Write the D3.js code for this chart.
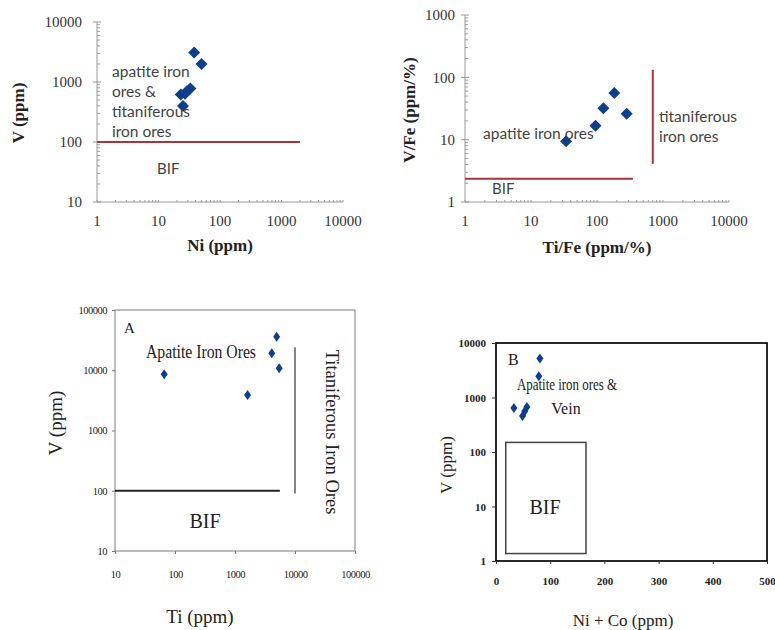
<!DOCTYPE html>
<html>
<head>
<meta charset="utf-8">
<script src="https://cdn.jsdelivr.net/npm/d3@7"></script>
<style>
  body { margin: 0; background: #fff; }
  svg { display: block; }
</style>
</head>
<body>
<div id="chart"></div>
<script>
// Data
// Panel 1: V vs Ni
const niValues = [38, 50, 33, 29, 23, 25, 27];
const vNiValues = [3100, 2000, 780, 700, 620, 400, 640];
// Panel 2: V/Fe vs Ti/Fe
const tiFeValues = [34, 95, 125, 183, 282];
const vFeValues = [9.4, 16.7, 32, 56, 26];
// Panel 3: V vs Ti
const tiValues = [66, 1620, 4100, 4950, 5450];
const vTiValues = [8600, 3870, 19200, 36000, 10800];
// Panel 4: V vs Ni+Co
const niCoValues = [81, 79, 33, 49, 57, 53];
const vNiCoValues = [5200, 2450, 640, 460, 670, 560];

const logTicks1 = [1, 10, 100, 1000, 10000];
const logTicks2 = [10, 100, 1000, 10000, 100000];
const linTicks = [0, 100, 200, 300, 400, 500];
const logTicks4 = [1, 10, 100, 1000, 10000];

const svg = d3.select('#chart')
    .append('svg')
    .attr('width', 775)
    .attr('height', 630);

const blue = '#0f3f8a';
const red = '#a8343a';
const serif = '"Liberation Serif", "Times New Roman", serif';
const sans = 'Lato, "Open Sans", sans-serif';

function diamond(g, pts, w, h) {
    g.selectAll('path.pt')
        .data(pts)
        .join('path')
        .attr('class', 'pt')
        .attr('d', d => `M${d[0]},${d[1] - h}L${d[0] + w},${d[1]}L${d[0]},${d[1] + h}L${d[0] - w},${d[1]}Z`)
        .attr('fill', blue);
}

function minorLog(domain) {
    const out = [];
    for (let e = Math.log10(domain[0]); e < Math.log10(domain[1]); e++) {
        for (let k = 2; k <= 9; k++) out.push(k * Math.pow(10, e));
    }
    return out;
}

// ---------- Panel 1 ----------
{
    const x = d3.scaleLog().domain([1, 10000]).range([97, 343]);
    const y = d3.scaleLog().domain([10, 10000]).range([202, 22]);
    const g = svg.append('g');
    const axisColor = '#9a9a9a';

    g.append('line').attr('x1', x(1)).attr('x2', x(10000)).attr('y1', y(10)).attr('y2', y(10)).attr('stroke', axisColor);
    g.append('line').attr('x1', x(1)).attr('x2', x(1)).attr('y1', y(10)).attr('y2', y(10000)).attr('stroke', axisColor);
    g.selectAll('.ymin').data(minorLog([10, 10000])).join('line')
        .attr('x1', x(1)).attr('x2', x(1) + 3).attr('y1', d => y(d)).attr('y2', d => y(d)).attr('stroke', axisColor);
    g.selectAll('.ymaj').data([10, 100, 1000, 10000]).join('line')
        .attr('x1', x(1) - 4).attr('x2', x(1) + 4).attr('y1', d => y(d)).attr('y2', d => y(d)).attr('stroke', axisColor);
    g.selectAll('.xmin').data(minorLog([1, 10000]).concat(logTicks1)).join('line')
        .attr('x1', d => x(d)).attr('x2', d => x(d)).attr('y1', y(10)).attr('y2', y(10) - 2).attr('stroke', axisColor);

    g.selectAll('.ylab').data([10, 100, 1000, 10000]).join('text')
        .attr('x', 82).attr('y', d => y(d)).attr('dy', '0.35em').attr('text-anchor', 'end')
        .attr('font-family', serif).attr('font-size', 15).attr('fill', '#333').text(d => d);
    g.selectAll('.xlab').data(logTicks1).join('text')
        .attr('x', d => x(d)).attr('y', 226).attr('text-anchor', 'middle')
        .attr('font-family', serif).attr('font-size', 15).attr('fill', '#333').text(d => d);

    g.append('line').attr('x1', x(1)).attr('x2', x(2000)).attr('y1', y(100)).attr('y2', y(100))
        .attr('stroke', red).attr('stroke-width', 2);

    diamond(g, niValues.map((d, i) => [x(d), y(vNiValues[i])]), 6, 6);

    const lines = ['apatite iron', 'ores &', 'titaniferous', 'iron ores'];
    g.selectAll('.ann').data(lines).join('text')
        .attr('x', 112).attr('y', (d, i) => 77 + i * 20)
        .attr('font-family', sans).attr('font-size', 15.5).attr('fill', '#444').text(d => d);
    g.append('text').attr('x', 157).attr('y', 174).attr('font-family', sans).attr('font-size', 15)
        .attr('fill', '#444').text('BIF');

    g.append('text').attr('transform', 'translate(24,113) rotate(-90)').attr('text-anchor', 'middle')
        .attr('font-family', serif).attr('font-weight', 'bold').attr('font-size', 17).attr('fill', '#222').text('V (ppm)');
    g.append('text').attr('x', 220).attr('y', 251).attr('text-anchor', 'middle')
        .attr('font-family', serif).attr('font-weight', 'bold').attr('font-size', 17).attr('fill', '#222').text('Ni (ppm)');
}

// ---------- Panel 2 ----------
{
    const x = d3.scaleLog().domain([1, 10000]).range([465, 729]);
    const y = d3.scaleLog().domain([1, 1000]).range([202, 15]);
    const g = svg.append('g');
    const axisColor = '#9a9a9a';

    g.append('line').attr('x1', x(1)).attr('x2', x(10000)).attr('y1', y(1)).attr('y2', y(1)).attr('stroke', axisColor);
    g.append('line').attr('x1', x(1)).attr('x2', x(1)).attr('y1', y(1)).attr('y2', y(1000)).attr('stroke', axisColor);
    g.selectAll('.ymin').data(minorLog([1, 1000])).join('line')
        .attr('x1', x(1)).attr('x2', x(1) + 3).attr('y1', d => y(d)).attr('y2', d => y(d)).attr('stroke', axisColor);
    g.selectAll('.ymaj').data([1, 10, 100, 1000]).join('line')
        .attr('x1', x(1) - 4).attr('x2', x(1) + 4).attr('y1', d => y(d)).attr('y2', d => y(d)).attr('stroke', axisColor);
    g.selectAll('.xmin').data(minorLog([1, 10000]).concat(logTicks1)).join('line')
        .attr('x1', d => x(d)).attr('x2', d => x(d)).attr('y1', y(1)).attr('y2', y(1) - 2).attr('stroke', axisColor);

    g.selectAll('.ylab').data([1, 10, 100, 1000]).join('text')
        .attr('x', 455).attr('y', d => y(d)).attr('dy', '0.35em').attr('text-anchor', 'end')
        .attr('font-family', serif).attr('font-size', 15).attr('fill', '#333').text(d => d);
    g.selectAll('.xlab').data(logTicks1).join('text')
        .attr('x', d => x(d)).attr('y', 226).attr('text-anchor', 'middle')
        .attr('font-family', serif).attr('font-size', 15).attr('fill', '#333').text(d => d);

    g.append('line').attr('x1', x(1)).attr('x2', x(350)).attr('y1', y(2.36)).attr('y2', y(2.36))
        .attr('stroke', red).attr('stroke-width', 2);
    g.append('line').attr('x1', x(700)).attr('x2', x(700)).attr('y1', y(4.1)).attr('y2', y(132))
        .attr('stroke', red).attr('stroke-width', 2);

    diamond(g, tiFeValues.map((d, i) => [x(d), y(vFeValues[i])]), 6, 6);

    g.append('text').attr('x', 483).attr('y', 139).attr('font-family', sans).attr('font-size', 15.5)
        .attr('fill', '#444').text('apatite iron ores');
    g.append('text').attr('x', 659).attr('y', 122).attr('font-family', sans).attr('font-size', 15.5)
        .attr('fill', '#444').text('titaniferous');
    g.append('text').attr('x', 659).attr('y', 142).attr('font-family', sans).attr('font-size', 15.5)
        .attr('fill', '#444').text('iron ores');
    g.append('text').attr('x', 492).attr('y', 194).attr('font-family', sans).attr('font-size', 15)
        .attr('fill', '#444').text('BIF');

    g.append('text').attr('transform', 'translate(415,110) rotate(-90)').attr('text-anchor', 'middle')
        .attr('font-family', serif).attr('font-weight', 'bold').attr('font-size', 17).attr('fill', '#222').text('V/Fe (ppm/%)');
    g.append('text').attr('x', 597).attr('y', 253).attr('text-anchor', 'middle')
        .attr('font-family', serif).attr('font-weight', 'bold').attr('font-size', 17).attr('fill', '#222').text('Ti/Fe (ppm/%)');
}

// ---------- Panel 3 ----------
{
    const x = d3.scaleLog().domain([10, 100000]).range([115, 355]);
    const y = d3.scaleLog().domain([10, 100000]).range([551, 310]);
    const g = svg.append('g');
    const frame = '#7a7a7a';

    g.append('rect').attr('x', 115).attr('y', 310).attr('width', 240).attr('height', 241)
        .attr('fill', 'none').attr('stroke', frame);

    const xAxis = d3.axisBottom(x).tickValues(logTicks2).tickSize(3).tickFormat(d => d);
    const yAxis = d3.axisLeft(y).tickValues(logTicks2).tickSize(3).tickFormat(d => d);
    const ax = g.append('g').attr('transform', 'translate(0,551)').call(xAxis);
    const ay = g.append('g').attr('transform', 'translate(115,0)').call(yAxis);
    [ax, ay].forEach(a => {
        a.select('.domain').remove();
        a.selectAll('line').attr('stroke', frame);
        a.selectAll('text').attr('font-family', serif).attr('font-size', 10.5).attr('fill', '#222')
            .attr('letter-spacing', -0.5);
    });
    ax.selectAll('text').attr('y', 27).attr('dy', 0);
    ay.selectAll('text').attr('x', -8);

    g.append('line').attr('x1', x(10)).attr('x2', x(5600)).attr('y1', y(100)).attr('y2', y(100))
        .attr('stroke', '#222').attr('stroke-width', 2);
    g.append('line').attr('x1', x(10000)).attr('x2', x(10000)).attr('y1', y(90)).attr('y2', y(24000))
        .attr('stroke', '#444').attr('stroke-width', 1.3);

    diamond(g, tiValues.map((d, i) => [x(d), y(vTiValues[i])]), 3.5, 5);

    g.append('text').attr('x', 124).attr('y', 333).attr('font-family', serif).attr('font-size', 15)
        .attr('fill', '#222').text('A');
    g.append('text').attr('x', 146).attr('y', 358).attr('font-family', serif).attr('font-size', 18)
        .attr('textLength', 110).attr('lengthAdjust', 'spacingAndGlyphs').attr('fill', '#222').text('Apatite Iron Ores');
    g.append('text').attr('x', 205).attr('y', 528).attr('text-anchor', 'middle').attr('font-family', serif)
        .attr('font-size', 20).attr('fill', '#222').text('BIF');
    g.append('text').attr('transform', 'translate(326,432) rotate(90)').attr('text-anchor', 'middle')
        .attr('font-family', serif).attr('font-size', 18.5).attr('fill', '#222').text('Titaniferous Iron Ores');

    g.append('text').attr('transform', 'translate(62,423) rotate(-90)').attr('text-anchor', 'middle')
        .attr('font-family', serif).attr('font-size', 19).attr('fill', '#222').text('V (ppm)');
    g.append('text').attr('x', 200).attr('y', 623).attr('text-anchor', 'middle')
        .attr('font-family', serif).attr('font-size', 19).attr('fill', '#222').text('Ti (ppm)');
}

// ---------- Panel 4 ----------
{
    const x = d3.scaleLinear().domain([0, 500]).range([496, 767]);
    const y = d3.scaleLog().domain([1, 10000]).range([561, 343]);
    const g = svg.append('g');

    g.append('rect').attr('x', 496).attr('y', 343).attr('width', 271).attr('height', 218)
        .attr('fill', 'none').attr('stroke', '#111').attr('stroke-width', 1.8);

    const xAxis = d3.axisBottom(x).tickValues(linTicks).tickSize(3);
    const yAxis = d3.axisLeft(y).tickValues(logTicks4).tickSize(4).tickFormat(d => d);
    const ax = g.append('g').attr('transform', 'translate(0,561)').call(xAxis);
    const ay = g.append('g').attr('transform', 'translate(496,0)').call(yAxis);
    [ax, ay].forEach(a => {
        a.select('.domain').remove();
        a.selectAll('line').attr('stroke', '#333');
        a.selectAll('text').attr('font-family', serif).attr('font-weight', 'bold').attr('font-size', 11)
            .attr('fill', '#222');
    });
    ax.selectAll('text').attr('y', 24).attr('dy', 0);
    ay.selectAll('text').attr('x', -10);

    // BIF field
    g.append('rect')
        .attr('x', x(18)).attr('y', y(150))
        .attr('width', x(166) - x(18)).attr('height', y(1.37) - y(150))
        .attr('fill', 'none').attr('stroke', '#444').attr('stroke-width', 1.5);

    diamond(g, niCoValues.map((d, i) => [x(d), y(vNiCoValues[i])]), 3.5, 5);

    g.append('text').attr('x', 508).attr('y', 365).attr('font-family', serif).attr('font-size', 16)
        .attr('fill', '#222').text('B');
    g.append('text').attr('x', 517).attr('y', 390).attr('font-family', serif).attr('font-size', 16)
        .attr('textLength', 100).attr('lengthAdjust', 'spacingAndGlyphs').attr('fill', '#222').text('Apatite iron ores &');
    g.append('text').attr('x', 566).attr('y', 414).attr('text-anchor', 'middle').attr('font-family', serif)
        .attr('font-size', 16).attr('fill', '#222').text('Vein');
    g.append('text').attr('x', 545).attr('y', 514).attr('text-anchor', 'middle').attr('font-family', serif)
        .attr('font-size', 20).attr('fill', '#222').text('BIF');

    g.append('text').attr('transform', 'translate(452,465) rotate(-90)').attr('text-anchor', 'middle')
        .attr('font-family', serif).attr('font-size', 17).attr('fill', '#222').text('V (ppm)');
    g.append('text').attr('x', 623).attr('y', 626).attr('text-anchor', 'middle')
        .attr('font-family', serif).attr('font-size', 17).attr('fill', '#222').text('Ni + Co (ppm)');
}
</script>
</body>
</html>
